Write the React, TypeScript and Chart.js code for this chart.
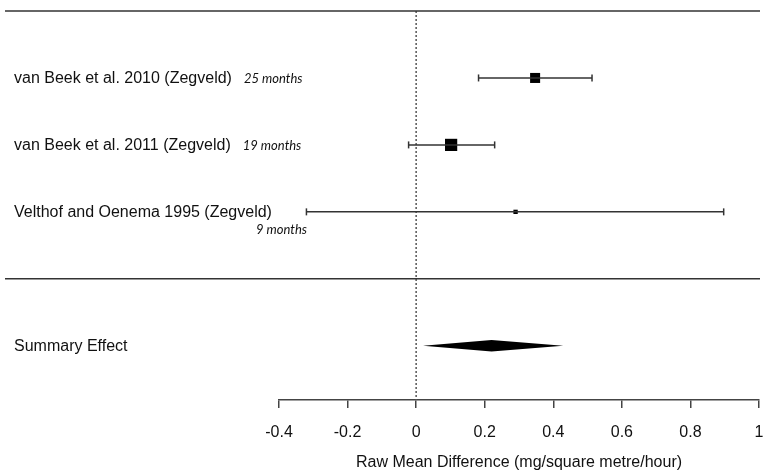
import React, { useEffect, useRef } from "react";
import { Chart, registerables } from "chart.js";

Chart.register(...registerables);

// ---- data ----
const studyLabels = [
  "van Beek et al. 2010 (Zegveld)",
  "van Beek et al. 2011 (Zegveld)",
  "Velthof and Oenema 1995 (Zegveld)",
];
const studyDurations = ["25 months", "19 months", "9 months"];
const studyEffects = [0.347, 0.102, 0.29];
const studyLower = [0.182, -0.022, -0.32];
const studyUpper = [0.513, 0.229, 0.897];
const studyWeights = [37.4, 55.6, 7.0];
const studyRows = [1, 2, 3];

const summaryLabel = "Summary Effect";
const summaryEffect = 0.22;
const summaryLower = 0.02;
const summaryUpper = 0.429;
const summaryRow = 5;

const separatorRows = [0, 4];
const xTickValues = [-0.4, -0.2, 0, 0.2, 0.4, 0.6, 0.8, 1];
const xTickLabels = ["-0.4", "-0.2", "0", "0.2", "0.4", "0.6", "0.8", "1"];
const xAxisTitle = "Raw Mean Difference (mg/square metre/hour)";

// ---- styling constants ----
const LINE_COLOR = "#333";
const TEXT_COLOR = "#111";
const FONT_FAMILY = '"Liberation Sans", Arial, sans-serif';
const LABEL_FONT = '16px "Liberation Sans", Arial, sans-serif';
const DURATION_FONT = 'italic 13px Lato, "Liberation Sans", sans-serif';
const LABEL_X = 14;
const DURATION_LIMIT_X = 307;

const forestPlugin = {
  id: "forestPlugin",
  beforeDatasetsDraw(chart: any) {
    const { ctx, scales } = chart;
    const x = scales.x;
    const y = scales.y;
    const x0 = x.getPixelForValue(0);
    ctx.save();
    ctx.strokeStyle = "#555";
    ctx.lineWidth = 1.5;
    ctx.setLineDash([2, 2]);
    ctx.beginPath();
    ctx.moveTo(x0, y.getPixelForValue(separatorRows[0]));
    ctx.lineTo(x0, chart.chartArea.bottom);
    ctx.stroke();
    ctx.restore();
  },
  afterDatasetsDraw(chart: any) {
    const { ctx, scales } = chart;
    const x = scales.x;
    const y = scales.y;
    ctx.save();

    // separators
    ctx.strokeStyle = LINE_COLOR;
    ctx.lineWidth = 1.5;
    separatorRows.forEach((r) => {
      const py = y.getPixelForValue(r);
      ctx.beginPath();
      ctx.moveTo(5, py);
      ctx.lineTo(760, py);
      ctx.stroke();
    });

    // summary diamond
    const cy = y.getPixelForValue(summaryRow);
    const halfH = Math.abs(y.getPixelForValue(summaryRow + 0.085) - cy);
    ctx.fillStyle = "#000";
    ctx.beginPath();
    ctx.moveTo(x.getPixelForValue(summaryLower), cy);
    ctx.lineTo(x.getPixelForValue(summaryEffect), cy - halfH);
    ctx.lineTo(x.getPixelForValue(summaryUpper), cy);
    ctx.lineTo(x.getPixelForValue(summaryEffect), cy + halfH);
    ctx.closePath();
    ctx.fill();

    // labels
    ctx.fillStyle = TEXT_COLOR;
    ctx.textBaseline = "middle";
    studyLabels.forEach((label, i) => {
      const py = y.getPixelForValue(studyRows[i]) + 1;
      ctx.font = LABEL_FONT;
      ctx.textAlign = "left";
      ctx.fillText(label, LABEL_X, py);
      const w = ctx.measureText(label).width;
      ctx.font = DURATION_FONT;
      const dw = ctx.measureText(studyDurations[i]).width;
      const dx = LABEL_X + w + 12;
      if (dx + dw <= DURATION_LIMIT_X + 2) {
        ctx.fillText(studyDurations[i], dx, py);
      } else {
        ctx.textAlign = "right";
        ctx.fillText(studyDurations[i], DURATION_LIMIT_X, py + 17);
      }
    });
    ctx.font = LABEL_FONT;
    ctx.textAlign = "left";
    ctx.fillText(summaryLabel, LABEL_X, cy + 1);
    ctx.restore();
  },
};

export default function App() {
  const canvasRef = useRef<HTMLCanvasElement | null>(null);

  useEffect(() => {
    document.body.style.margin = "0";
    const canvas = canvasRef.current;
    if (!canvas) return;

    const ciDatasets = studyLabels.map((label, i) => ({
      type: "line" as const,
      label: label + " CI",
      data: [
        { x: studyLower[i], y: studyRows[i] },
        { x: studyUpper[i], y: studyRows[i] },
      ],
      showLine: true,
      borderColor: LINE_COLOR,
      borderWidth: 1.5,
      pointStyle: "line" as const,
      rotation: 90,
      pointRadius: 3.5,
      pointBorderWidth: 1.5,
      pointBorderColor: LINE_COLOR,
      fill: false,
      clip: false,
    }));

    const squareSides = studyWeights.map((w) => 1.64 * Math.sqrt(w));

    const chart = new Chart(canvas, {
      type: "scatter",
      data: {
        datasets: [
          ...ciDatasets,
          {
            type: "scatter" as const,
            label: "Estimates",
            data: studyEffects.map((e, i) => ({ x: e, y: studyRows[i] })),
            pointStyle: "rect",
            pointRadius: squareSides.map((s) => s / 2 / Math.SQRT1_2),
            backgroundColor: "#000",
            borderColor: "#000",
            borderWidth: 0,
            clip: false,
          },
        ] as any,
      },
      options: {
        responsive: false,
        animation: false,
        layout: { autoPadding: false, padding: { left: 279, right: 4, top: 11, bottom: 0 } },
        plugins: {
          legend: { display: false },
          tooltip: { enabled: false },
        },
        scales: {
          x: {
            type: "linear",
            min: xTickValues[0],
            max: xTickValues[xTickValues.length - 1],
            position: "bottom",
            afterBuildTicks: (scale: any) => {
              scale.ticks = xTickValues.map((v) => ({ value: v }));
            },
            afterFit: (scale: any) => {
              scale.height = 72;
              scale.paddingLeft = 0;
              scale.paddingRight = 0;
            },
            ticks: {
              autoSkip: false,
              maxRotation: 0,
              padding: 15,
              color: TEXT_COLOR,
              font: { family: FONT_FAMILY, size: 16 },
              callback: (value: any) => {
                const idx = xTickValues.findIndex((v) => Math.abs(v - Number(value)) < 1e-9);
                return idx >= 0 ? xTickLabels[idx] : "";
              },
            },
            grid: {
              drawOnChartArea: false,
              drawTicks: true,
              tickLength: 8,
              color: "#444",
              lineWidth: 1.5,
            },
            border: { display: true, color: "#444", width: 1.5 },
            title: {
              display: true,
              text: xAxisTitle,
              color: TEXT_COLOR,
              font: { family: FONT_FAMILY, size: 16 },
              padding: { top: 0, bottom: 0 },
            },
          },
          y: {
            type: "linear",
            display: false,
            reverse: true,
            min: 0,
            max: 5.81,
          },
        },
      } as any,
      plugins: [forestPlugin],
    });

    return () => {
      chart.destroy();
    };
  }, []);

  return (
    <div style={{ width: 763, height: 472, position: "relative", background: "#fff" }}>
      <canvas ref={canvasRef} width={763} height={472} />
    </div>
  );
}
